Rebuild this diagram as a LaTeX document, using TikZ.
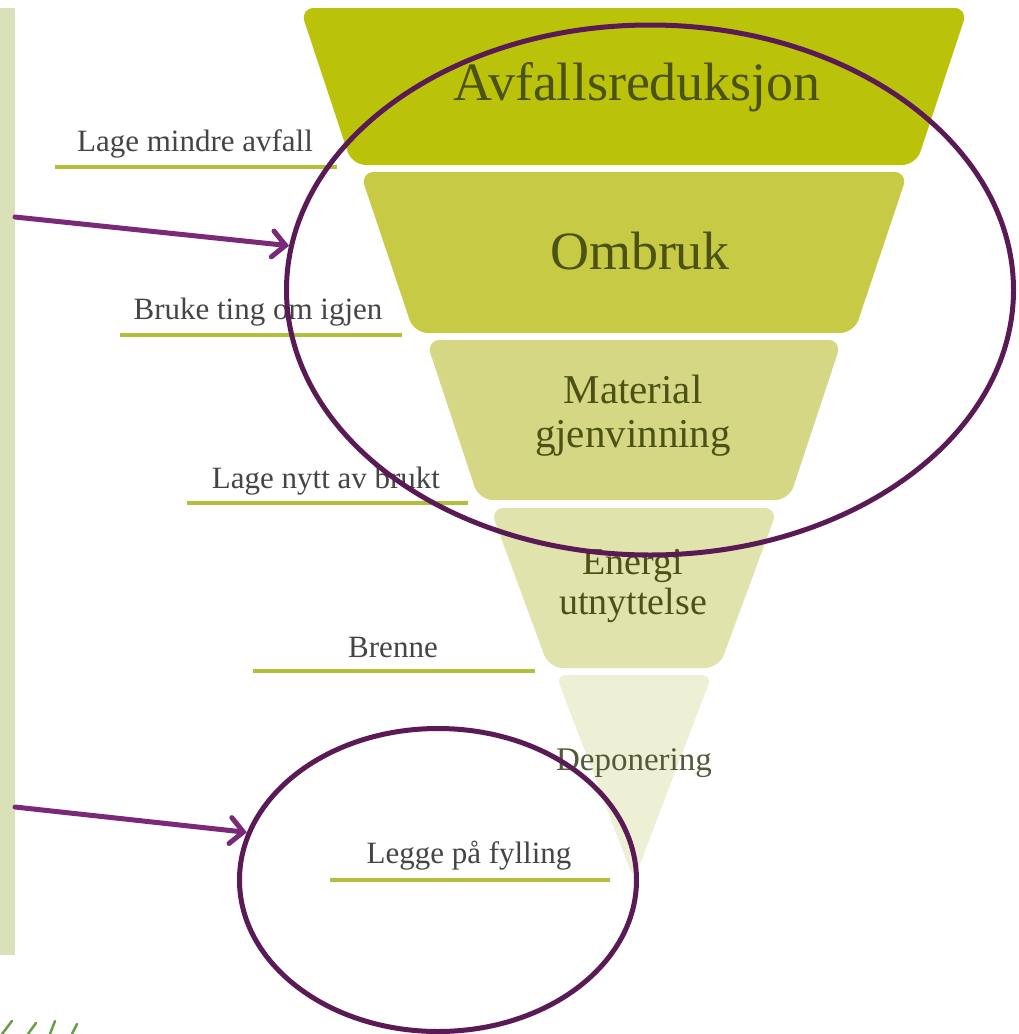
\documentclass[tikz,border=0pt]{standalone}
\usepackage{fontspec}
\setmainfont{Liberation Serif}
\usetikzlibrary{arrows.meta,shapes.geometric}
\definecolor{barcol}{HTML}{D8E1B8}
\definecolor{tA}{HTML}{BBC20A}
\definecolor{tB}{HTML}{C7CA45}
\definecolor{tC}{HTML}{D5D785}
\definecolor{tD}{HTML}{E1E3AD}
\definecolor{tE}{HTML}{EEF0D5}
\definecolor{tiertext}{HTML}{4B5213}
\definecolor{deptext}{HTML}{55583A}
\definecolor{lbltext}{HTML}{434643}
\definecolor{ulcol}{HTML}{B3BE3A}
\definecolor{ringcol}{HTML}{5A1A55}
\definecolor{arrcol}{HTML}{7A2878}
\definecolor{scribble}{HTML}{6A9E4A}
\begin{document}
\begin{tikzpicture}[x=1pt,y=-1pt,
  tier/.style={rounded corners=14pt},
  tiertxt/.style={text=tiertext, align=center, inner sep=0pt},
  lbl/.style={text=lbltext, inner sep=0pt, font=\fontsize{31}{34}\selectfont},
  uline/.style={draw=ulcol, line width=4pt},
  ring/.style={ellipse, draw=ringcol, line width=5pt, inner sep=0pt, fill=none},
  parrow/.style={draw=arrcol, line width=5pt, line cap=round,
    -{Straight Barb[length=13pt,width=26pt,line cap=round]}}]
\useasboundingbox[fill=white] (0,0) rectangle (1019,1034);
% left bar
\fill[barcol] (0,8) rectangle (15,955);
% pyramid tiers
\fill[tA,tier] (300,8) -- (968,8) -- (916,165) -- (352,165) -- cycle;
\fill[tB,tier] (360,172) -- (908,172) -- (854,333) -- (414,333) -- cycle;
\fill[tC,tier] (426,340) -- (842,340) -- (789,500) -- (479,500) -- cycle;
\fill[tD,tier] (490,508) -- (778,508) -- (719,668) -- (549,668) -- cycle;
\fill[tE,rounded corners=10pt] (556,675) -- (712,675) -- (634,880) -- cycle;
% tier texts
\node[tiertxt, font=\fontsize{54}{58}\selectfont] (t1) at (637,87) {Avfallsreduksjon};
\node[tiertxt, font=\fontsize{54}{58}\selectfont] (t2) at (640,251) {Ombruk};
\node[tiertxt, font=\fontsize{41}{44}\selectfont] (t3) at (633,416) {Material\\gjenvinning};
\node[tiertxt, font=\fontsize{38}{40}\selectfont] (t4) at (633,586) {Energi\\utnyttelse};
\node[tiertxt, text=deptext, font=\fontsize{33}{36}\selectfont] (t5) at (634,763) {Deponering};
% side labels
\node[lbl] (l1) at (195,144) {Lage mindre avfall};
\node[lbl] (l2) at (258,312) {Bruke ting om igjen};
\node[lbl] (l3) at (326,481) {Lage nytt av brukt};
\node[lbl] (l4) at (393,647) {Brenne};
\node[lbl] (l5) at (469,856) {Legge på fylling};
\draw[uline] (55,167) -- (337,167);
\draw[uline] (120,335) -- (402,335);
\draw[uline] (187,503) -- (468,503);
\draw[uline] (253,671) -- (535,671);
\draw[uline] (330,880) -- (610,880);
% rings
\node[ring, minimum width=727pt, minimum height=530pt] (big) at (650,290) {};
\node[ring, minimum width=397pt, minimum height=303pt] (small) at (438,880) {};
% arrows
\coordinate (s1) at (15,217);
\coordinate (s2) at (15,807);
\draw[parrow] (s1) -- (big.173);
\draw[parrow] (s2) -- (small.166);
% cut-off green scribble at bottom left
\draw[scribble, line width=2.5pt, line cap=round]
  (2,1034) -- (12,1021)
  (28,1034) -- (36,1023)
  (50,1034) -- (55,1021)
  (72,1034) -- (77,1024);
\end{tikzpicture}
\end{document}
